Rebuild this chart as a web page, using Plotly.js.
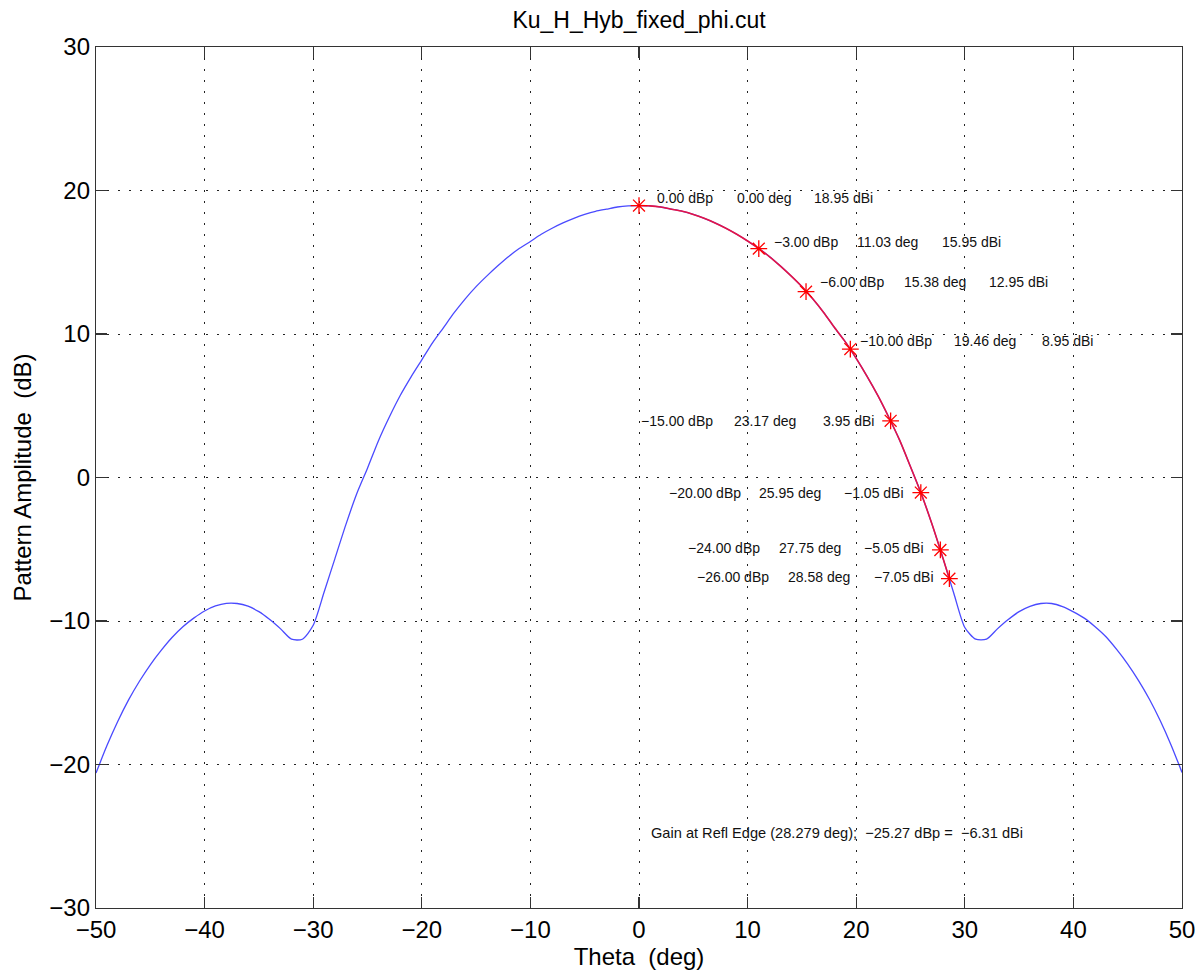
<!DOCTYPE html>
<html>
<head>
<meta charset="utf-8">
<script src="https://cdn.plot.ly/plotly-3.0.1.min.js"></script>
<style>html,body{margin:0;padding:0;background:#fff;}#chart{width:1204px;height:974px;}</style>
</head>
<body>
<div id="chart"></div>
<script>
// ---- pattern data (theta in deg, gain in dBi) ----
const thetaDeg = [-50,-49,-48,-47,-46,-45,-44,-43,-42,-41,-40,-39,-38,-37,-36,-35,-34,-33,-32,-31,-30,-29,-28,-27,-26,-25,-24,-23,-22,-21,-20,-19,-18,-17,-16,-15,-14,-13,-12,-11,-10,-9,-8,-7,-6,-5,-4,-3,-2,-1,
  0,1,2,3,4,5,6,7,8,9,10,11,12,13,14,15,16,17,18,19,20,21,22,23,24,25,26,27,28,29,30,31,32,33,34,35,36,37,38,39,40,41,42,43,44,45,46,47,48,49,50];
const gainDbi = [-20.6,-18.7,-17.0,-15.5,-14.2,-13.05,-12.05,-11.15,-10.4,-9.8,-9.3,-8.95,-8.77,-8.78,-8.97,-9.35,-9.9,-10.55,-11.27,-11.27,-10.3,-8.0,-5.65,-3.3,-1.15,0.65,2.55,4.2,5.7,7.0,8.2,9.4,10.45,11.5,12.45,13.3,14.05,14.75,15.4,15.97,16.45,16.95,17.37,17.74,18.06,18.33,18.55,18.7,18.85,18.93,
  18.95,18.93,18.85,18.7,18.55,18.33,18.06,17.74,17.37,16.95,16.48,15.97,15.4,14.75,14.05,13.3,12.45,11.5,10.45,9.45,8.3,7.05,5.7,4.2,2.6,0.75,-1.15,-3.3,-5.65,-8.1,-10.45,-11.27,-11.27,-10.55,-9.9,-9.35,-8.98,-8.78,-8.78,-9.0,-9.36,-9.8,-10.4,-11.1,-12.0,-13.0,-14.15,-15.45,-16.95,-18.65,-20.55];

// ---- beam-edge markers ----
const markDbp   = [0, -3, -6, -10, -15, -20, -24, -26];
const markTheta = [0.00, 11.03, 15.38, 19.46, 23.17, 25.95, 27.75, 28.58];
const markGain  = [18.95, 15.95, 12.95, 8.95, 3.95, -1.05, -5.05, -7.05];

// ---- reflector edge info ----
const edgeTheta = 28.279;
const edgeDbp = -25.27;
const edgeDbi = -6.31;

const titleText = 'Ku_H_Hyb_fixed_phi.cut';
const xTitle = 'Theta \u00a0(deg)';
const yTitle = 'Pattern Amplitude \u00a0(dB)';

function fmt(v){ const s = Math.abs(v).toFixed(2); return (v < 0 ? '\u2212' : '') + s; }

// red segment: pattern from 0 to last marker
const redX = [], redY = [];
for (let i = 0; i < thetaDeg.length; i++) {
  if (thetaDeg[i] >= 0 && thetaDeg[i] < markTheta[markTheta.length-1]) { redX.push(thetaDeg[i]); redY.push(gainDbi[i]); }
}
redX.push(markTheta[markTheta.length-1]); redY.push(markGain[markGain.length-1]);

const traces = [
  {x: thetaDeg, y: gainDbi, mode: 'lines', line: {color: '#4a4aff', width: 1.3, shape: 'spline', smoothing: 0.7}, hoverinfo: 'skip'},
  {x: redX, y: redY, mode: 'lines', line: {color: 'rgb(228,20,70)', width: 1.6, shape: 'spline', smoothing: 0.7}, hoverinfo: 'skip'},
  {x: markTheta, y: markGain, mode: 'markers', marker: {symbol: 'asterisk-open', size: 14, color: 'red', line: {color: 'red', width: 1.3}}, hoverinfo: 'skip'}
];

// label layout positions (data coords of left edge of each column)
const labelLayout = [
  [[1.47, 8.84, 15.93], 19.46],
  [[12.22, 19.89, 27.72], 16.43],
  [[16.48, 24.19, 32.02], 13.6],
  [[20.17, 28.79, 36.92], 9.53],
  [[0.03, 8.54, 16.73], 3.94],
  [[2.55, 10.89, 18.72], -1.06],
  [[4.33, 12.68, 20.56], -4.89],
  [[5.16, 13.51, 21.43], -6.91]
];

const annFont = {family: 'Liberation Sans, Arial, sans-serif', size: 14, color: '#111'};
const annotations = [];
for (let i = 0; i < markDbp.length; i++) {
  const texts = [fmt(markDbp[i]) + ' dBp', fmt(markTheta[i]) + ' deg', fmt(markGain[i]) + ' dBi'];
  const pos = labelLayout[i];
  for (let j = 0; j < 3; j++) {
    annotations.push({x: pos[0][j], y: pos[1], xref: 'x', yref: 'y', text: texts[j], showarrow: false,
      xanchor: 'left', yanchor: 'middle', font: annFont});
  }
}
annotations.push({x: 0.9, y: -24.77, xref: 'x', yref: 'y', showarrow: false, xanchor: 'left', yanchor: 'middle',
  font: {family: 'Liberation Sans, Arial, sans-serif', size: 14.6, color: '#111'},
  text: 'Gain at Refl Edge (' + edgeTheta.toFixed(3) + ' deg);\u00a0 ' + fmt(edgeDbp) + ' dBp =\u00a0 ' + fmt(edgeDbi) + ' dBi'});

const axisCommon = {
  showline: true, linecolor: '#333', linewidth: 1.2, mirror: 'ticks',
  ticks: 'inside', ticklen: 11, tickcolor: '#333', tickwidth: 1.2,
  showgrid: true, gridcolor: '#222', gridwidth: 1, griddash: '2px,9px',
  zeroline: false, dtick: 10,
  tickfont: {family: 'Liberation Sans, Arial, sans-serif', size: 24, color: '#000'}
};

const layout = {
  width: 1204, height: 974,
  margin: {l: 96, r: 22, t: 47, b: 66},
  paper_bgcolor: '#fff', plot_bgcolor: '#fff',
  showlegend: false,
  title: {text: titleText, x: 0.5, xref: 'paper', y: 0.98, yref: 'container', yanchor: 'middle',
    font: {family: 'Liberation Sans, Arial, sans-serif', size: 23, color: '#000'}},
  xaxis: Object.assign({}, axisCommon, {range: [-50, 50], tickmode: 'linear', tick0: -50,
    title: {text: xTitle, standoff: 4, font: {family: 'Liberation Sans, Arial, sans-serif', size: 24, color: '#000'}}}),
  yaxis: Object.assign({}, axisCommon, {range: [-30, 30], tickmode: 'linear', tick0: -30,
    title: {text: yTitle, standoff: 10, font: {family: 'Liberation Sans, Arial, sans-serif', size: 24, color: '#000'}}}),
  annotations: annotations
};

Plotly.newPlot('chart', traces, layout, {staticPlot: true});
</script>
</body>
</html>
